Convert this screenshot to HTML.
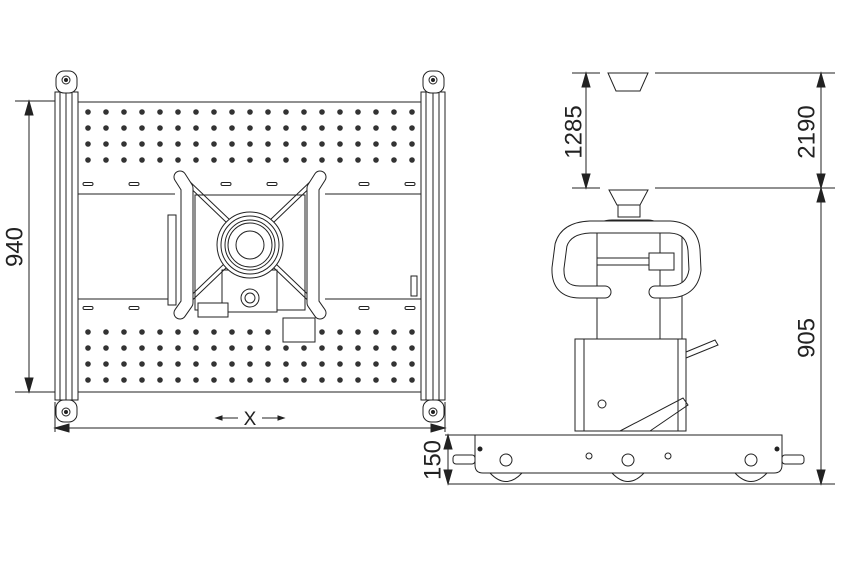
<!DOCTYPE html>
<html><head><meta charset="utf-8"><style>
html,body{margin:0;padding:0;background:#fff;}
svg{display:block;}
text{font-family:"Liberation Sans",sans-serif;font-weight:normal;fill:#222;}
</style></head><body>
<svg id="s" width="850" height="565" viewBox="0 0 850 565" xmlns="http://www.w3.org/2000/svg">
<g fill="none" stroke="#222" stroke-width="1">
<rect x="78" y="102" width="343" height="290"/>
<line x1="78" y1="194" x2="421" y2="194"/>
<line x1="78" y1="299" x2="421" y2="299"/>
<g id="holes" fill="#333" stroke="none"></g>
<g id="slots"></g>
<rect x="55" y="92" width="23" height="308" fill="#fff"/>
<line x1="60" y1="92" x2="60" y2="400"/><line x1="66" y1="92" x2="66" y2="400"/><line x1="72" y1="92" x2="72" y2="400"/>
<rect x="421" y="92" width="24" height="308" fill="#fff"/>
<line x1="426" y1="92" x2="426" y2="400"/><line x1="433" y1="92" x2="433" y2="400"/><line x1="439" y1="92" x2="439" y2="400"/>
<g fill="#fff">
<rect x="56" y="71" width="21" height="22" rx="8"/><circle cx="66" cy="80" r="4"/><circle cx="66" cy="80" r="1.5" fill="#222"/>
<rect x="423" y="71" width="21" height="22" rx="8"/><circle cx="433" cy="80" r="4"/><circle cx="433" cy="80" r="1.5" fill="#222"/>
<rect x="56" y="400" width="21" height="22" rx="8"/><circle cx="66" cy="412" r="4"/><circle cx="66" cy="412" r="1.5" fill="#222"/>
<rect x="423" y="400" width="21" height="22" rx="8"/><circle cx="433" cy="412" r="4"/><circle cx="433" cy="412" r="1.5" fill="#222"/>
</g>
<rect x="175" y="192" width="150" height="120" fill="#fff" stroke="none"/>
<rect x="195" y="195" width="110" height="115" fill="#fff"/>
<rect x="222" y="270" width="55" height="42" fill="#fff"/>
<line x1="180" y1="178" x2="320" y2="312"/><line x1="320" y1="178" x2="180" y2="312"/>
<line x1="186" y1="178" x2="320" y2="306"/><line x1="314" y1="178" x2="180" y2="306"/>
<path d="M180 177 L187 188 L187 303 L180 313" stroke-width="13" stroke-linecap="round" stroke-linejoin="round"/>
<path d="M180 177 L187 188 L187 303 L180 313" stroke="#fff" stroke-width="11" stroke-linecap="round" stroke-linejoin="round"/>
<path d="M320 177 L313 188 L313 303 L320 313" stroke-width="13" stroke-linecap="round" stroke-linejoin="round"/>
<path d="M320 177 L313 188 L313 303 L320 313" stroke="#fff" stroke-width="11" stroke-linecap="round" stroke-linejoin="round"/>
<rect x="168" y="215" width="8" height="90" fill="#fff"/>
<rect x="198" y="303" width="30" height="14" fill="#fff"/>
<rect x="283" y="318" width="32" height="24" fill="#fff"/>
<circle cx="250" cy="245" r="33" fill="#fff"/>
<circle cx="250" cy="245" r="29"/>
<circle cx="250" cy="245" r="25"/>
<circle cx="250" cy="245" r="22"/>
<circle cx="250" cy="245" r="14"/>
<circle cx="250" cy="298" r="9" fill="#fff"/><circle cx="250" cy="298" r="5"/>
<rect x="411" y="276" width="6" height="20" fill="#fff"/>
<line x1="15" y1="101" x2="55" y2="101"/><line x1="15" y1="392" x2="55" y2="392"/>
<line x1="29" y1="101" x2="29" y2="392"/>
<path d="M29 101 l-4 14 h8z M29 392 l-4 -14 h8z" fill="#222"/>
<line x1="55" y1="402" x2="55" y2="432"/><line x1="445" y1="402" x2="445" y2="432"/>
<line x1="55" y1="428" x2="445" y2="428"/>
<path d="M55 428 l14 -4 v8z M445 428 l-14 -4 v8z" fill="#222"/>
<line x1="218" y1="418" x2="238" y2="418"/><path d="M216 418 l6 -2 v4z" fill="#222"/>
<line x1="262" y1="418" x2="282" y2="418"/><path d="M284 418 l-6 -2 v4z" fill="#222"/>

<path d="M572 73 H600 M655 73 H835 M572 188 H600 M655 188 H835 M448 484 H835 M445 435 H480"/>
<path d="M608 73 H648 L640 91 H616 Z" fill="#fff"/>
<line x1="586" y1="73" x2="586" y2="188"/>
<path d="M586 73 l-4 14 h8z M586 188 l-4 -14 h8z" fill="#222"/>
<line x1="821" y1="73" x2="821" y2="484"/>
<path d="M821 73 l-4 14 h8z M821 188 l-4 14 h8z M821 188 l-4 -14 h8z M821 484 l-4 -14 h8z" fill="#222"/>
<line x1="448" y1="435" x2="448" y2="484"/>
<path d="M448 435 l-4 14 h8z M448 484 l-4 -14 h8z" fill="#222"/>
<path d="M609 190 H648 L640 205 H617 Z" fill="#fff"/>
<rect x="618" y="205" width="22" height="12" fill="#fff"/>
<path d="M597 227 Q600 220 612 220 H648 Q657 220 660 227 Z" fill="#fff"/>
<rect x="597" y="227" width="63" height="112" fill="#fff"/>
<rect x="660" y="227" width="22" height="112" fill="#fff"/>
<line x1="597" y1="258" x2="660" y2="258"/><line x1="597" y1="265" x2="660" y2="265"/>
<rect x="649" y="253" width="25" height="17" fill="#fff"/>
<path d="M605 292 H580 Q557 292 558 268 L561 245 Q566 228 590 227 H670 Q692 228 694 250 L695 270 Q692 292 668 292 H655" stroke-width="13" stroke-linecap="round"/>
<path d="M605 292 H580 Q557 292 558 268 L561 245 Q566 228 590 227 H670 Q692 228 694 250 L695 270 Q692 292 668 292 H655" stroke="#fff" stroke-width="11" stroke-linecap="round"/>
<rect x="575" y="339" width="111" height="92" fill="#fff"/>
<line x1="584" y1="339" x2="584" y2="431"/><line x1="678" y1="339" x2="678" y2="431"/>
<path d="M686 352 L715 340 L718 345 L686 358"/>
<path d="M620 431 L683 398 L688 405 L650 431"/>
<circle cx="602" cy="404" r="4"/>
<path d="M475 435 H782 V465 Q782 473 774 473 H483 Q475 473 475 465 Z" fill="#fff"/>
<path d="M490 473 Q506 490 522 473 M612 473 Q628 490 644 473 M735 473 Q751 490 767 473"/>
<circle cx="506" cy="460" r="6"/><circle cx="628" cy="460" r="6"/><circle cx="751" cy="460" r="6"/>
<circle cx="589" cy="456" r="3"/><circle cx="668" cy="456" r="3"/>
<circle cx="480" cy="449" r="2" fill="#222"/><circle cx="777" cy="449" r="2" fill="#222"/>
<rect x="453" y="455" width="22" height="9" rx="3" fill="#fff"/>
<rect x="782" y="455" width="22" height="9" rx="3" fill="#fff"/>
</g>
<g font-size="24">
<text transform="translate(16,247) rotate(-90)" text-anchor="middle" dominant-baseline="middle">940</text>
<text x="250" y="425" text-anchor="middle" font-size="19">X</text>
<text transform="translate(575,132) rotate(-90)" text-anchor="middle" dominant-baseline="middle">1285</text>
<text transform="translate(808,132) rotate(-90)" text-anchor="middle" dominant-baseline="middle">2190</text>
<text transform="translate(808,338) rotate(-90)" text-anchor="middle" dominant-baseline="middle">905</text>
<text transform="translate(434,460) rotate(-90)" text-anchor="middle" dominant-baseline="middle">150</text>
</g>
</svg>
<script>
var ns="http://www.w3.org/2000/svg",h=document.getElementById("holes"),sl=document.getElementById("slots");
var rows=[112,128,144,160,332,348,364,380];
for(var c=0;c<19;c++){var x=88+c*18;for(var r=0;r<8;r++){var y=rows[r];
if(r==4&&x>280&&x<318)continue;
var e=document.createElementNS(ns,"circle");e.setAttribute("cx",x);e.setAttribute("cy",y);e.setAttribute("r",2.8);h.appendChild(e);}}
[88,134,226,272,364,410].forEach(function(x){[184,308].forEach(function(y){var e=document.createElementNS(ns,"rect");e.setAttribute("x",x-5);e.setAttribute("y",y-1.5);e.setAttribute("width",10);e.setAttribute("height",3);e.setAttribute("rx",1.5);sl.appendChild(e);});});
</script>
</body></html>
